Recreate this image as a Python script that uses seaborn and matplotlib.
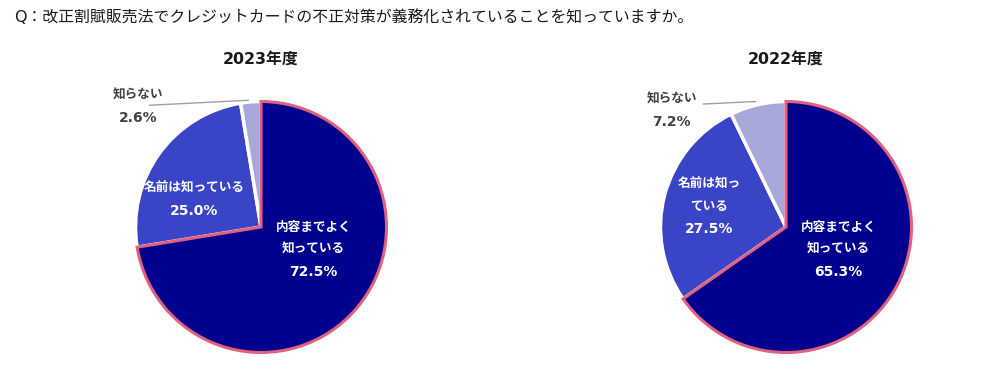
import matplotlib
matplotlib.use("Agg")
import matplotlib.pyplot as plt
import seaborn as sns

sns.set_theme(style="white")
plt.rcParams['font.family'] = ['DejaVu Sans', 'Noto Sans CJK JP']

question = "Q：改正割賦販売法でクレジットカードの不正対策が義務化されていることを知っていますか。"
years = ["2023年度", "2022年度"]
categories = ["内容までよく知っている", "名前は知っている", "知らない"]
values_2023 = [72.5, 25.0, 2.6]
values_2022 = [65.3, 27.5, 7.2]
labels_2023 = ["内容までよく\n知っている", "名前は知っている", "知らない"]
labels_2022 = ["内容までよく\n知っている", "名前は知っ\nている", "知らない"]

colors = ["#00008F", "#3A44C6", "#A7A7DA"]

W, H = 983, 386
R = 128
fig = plt.figure(figsize=(W / 100, H / 100), dpi=100)

def pie_axes(cx, cy, r):
    return fig.add_axes([(cx - r) / W, (H - cy - r) / H, 2 * r / W, 2 * r / H])

JP = 9.1
PCT = 10.0
STEP = 23 / R  # line step in data units

def label(ax, x, y_first, name, pct, color):
    lines = name.split("\n")
    y = y_first
    for ln in lines:
        ax.text(x, y, ln, ha="center", va="center", color=color, fontsize=JP,
                fontweight="bold", zorder=5)
        y -= STEP
    ax.text(x, y, pct, ha="center", va="center", color=color, fontsize=PCT,
            fontweight="bold", zorder=5)

def draw(ax, vals, labels, year, pos_main, pos_mid, pos_small, line):
    wedges, _ = ax.pie(vals, colors=colors, startangle=90, counterclock=False,
                       wedgeprops=dict(edgecolor="white", linewidth=2.5))
    wedges[0].set_edgecolor("#E0607E")
    wedges[0].set_linewidth(2.2)
    wedges[0].set_zorder(3)
    ax.set_xlim(-1.02, 1.02)
    ax.set_ylim(-1.02, 1.02)
    ax.set_aspect("equal")
    ax.axis("off")
    label(ax, pos_main[0], pos_main[1], labels[0], f"{vals[0]:.1f}%", "white")
    label(ax, pos_mid[0], pos_mid[1], labels[1], f"{vals[1]:.1f}%", "white")
    label(ax, pos_small[0], pos_small[1], labels[2], f"{vals[2]:.1f}%", "#404040")
    ax.plot(line[0], line[1], color="#A0A0A0", linewidth=1, clip_on=False, zorder=4)
    ax.text(0, 1.33, year, ha="center", va="center", fontsize=11.4, fontweight="bold",
            color="#1a1a1a")

ax1 = pie_axes(261, 227, R)
draw(ax1, values_2023, labels_2023, years[0], (0.42, 0.0), (-0.53, 0.31), (-0.98, 1.05),
     ([-0.89, -0.10], [0.97, 1.01]))

ax2 = pie_axes(786, 227, R)
draw(ax2, values_2022, labels_2022, years[1], (0.42, 0.0), (-0.61, 0.34), (-0.91, 1.02),
     ([-0.66, -0.24], [0.98, 1.0]))

fig.text(14 / W, 1 - 17 / H, question, ha="left", va="center", fontsize=11.4, color="#1a1a1a")

fig.savefig("out.png", dpi=100, facecolor="white")
